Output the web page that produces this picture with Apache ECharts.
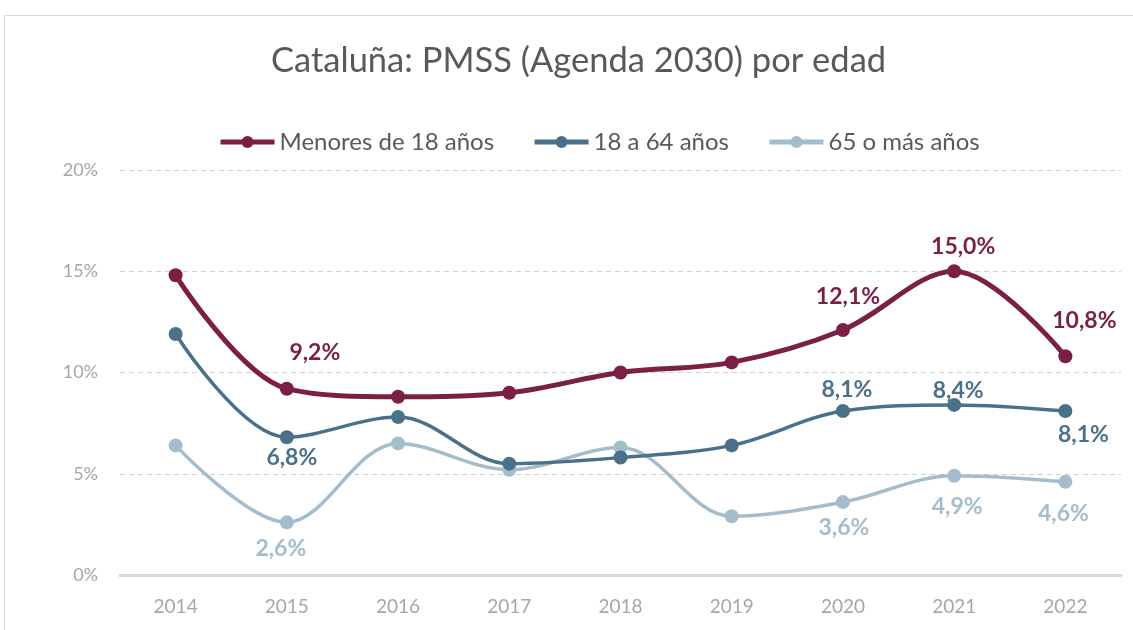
<!DOCTYPE html>
<html>
<head>
<meta charset="utf-8">
<script src="https://cdn.jsdelivr.net/npm/echarts@6/dist/echarts.min.js"></script>
<style>
  html, body { margin: 0; padding: 0; background: #fff; }
  #chart { width: 1133px; height: 630px; }
</style>
</head>
<body>
<div id="chart"></div>
<script>
const years = ["2014", "2015", "2016", "2017", "2018", "2019", "2020", "2021", "2022"];
const menores = [14.8, 9.2, 8.8, 9.0, 10.0, 10.5, 12.1, 15.0, 10.8];
const adultos = [11.9, 6.8, 7.8, 5.5, 5.8, 6.4, 8.1, 8.4, 8.1];
const mayores = [6.4, 2.6, 6.5, 5.2, 6.3, 2.9, 3.6, 4.9, 4.6];
const yTicks = [0, 5, 10, 15, 20];

const seriesNames = ["Menores de 18 años", "18 a 64 años", "65 o más años"];
const colors = ["#7b1f45", "#4b718a", "#a4bdcc"];

// which points carry a label, and where it sits
const labelSpots = [
  { 1: [28, -36], 6: [5, -33], 7: [9, -25], 8: [19, -36] },
  { 1: [5, 20], 6: [4, -21], 7: [4, -14], 8: [18, 24] },
  { 1: [-6, 26], 6: [1, 25], 7: [3, 31], 8: [-2, 32] }
];

const fmt = (v) => v.toFixed(1).replace(".", ",") + "%";

function buildData(values, spots, color) {
  return values.map((v, i) => {
    if (!spots[i]) return v;
    return {
      value: v,
      label: {
        show: true,
        position: "inside",
        offset: spots[i],
        formatter: (p) => fmt(p.value),
        color: color,
        fontSize: 23,
        fontWeight: "bold",
        fontFamily: "Lato"
      }
    };
  });
}

const chart = echarts.init(document.getElementById("chart"));
const allValues = [menores, adultos, mayores];

chart.setOption({
  animation: false,
  backgroundColor: "#fff",
  textStyle: { fontFamily: "Lato" },
  graphic: [{
    type: "rect",
    shape: { x: 4.5, y: 15.5, width: 1200, height: 700 },
    style: { fill: "none", stroke: "#d9d9d9", lineWidth: 1 },
    silent: true
  }],
  title: {
    text: "Cataluña: PMSS (Agenda 2030) por edad",
    left: 266,
    top: 38,
    textStyle: { color: "#595959", fontSize: 34.5, fontWeight: "normal", fontFamily: "Lato" }
  },
  legend: {
    top: 125,
    left: 213,
    itemWidth: 54,
    itemHeight: 15,
    itemGap: 38,
    lineStyle: { width: 5 },
    textStyle: { color: "#595959", fontSize: 24, fontFamily: "Lato" },
    data: seriesNames
  },
  grid: { left: 120, right: 12, top: 170, bottom: 55 },
  xAxis: {
    type: "category",
    data: years,
    boundaryGap: true,
    axisLine: { lineStyle: { color: "#d9d9d9", width: 3 } },
    axisTick: { show: false },
    axisLabel: { color: "#a6a6a6", fontSize: 19, margin: 22 }
  },
  yAxis: {
    type: "value",
    min: yTicks[0],
    max: yTicks[yTicks.length - 1],
    interval: yTicks[1] - yTicks[0],
    axisLine: { show: false },
    axisTick: { show: false },
    axisLabel: { color: "#a6a6a6", fontSize: 18, margin: 22, formatter: "{value}%" },
    splitLine: { lineStyle: { color: "#d0d0d0", type: [5, 4], width: 1 } }
  },
  series: allValues.map((vals, k) => ({
    name: seriesNames[k],
    type: "line",
    smooth: 0.35,
    symbol: "circle",
    symbolSize: 14,
    data: buildData(vals, labelSpots[k], colors[k]),
    lineStyle: { color: colors[k], width: k === 0 ? 5 : 3.5 },
    itemStyle: { color: colors[k] },
    z: 10 - k
  }))
});
</script>
</body>
</html>
